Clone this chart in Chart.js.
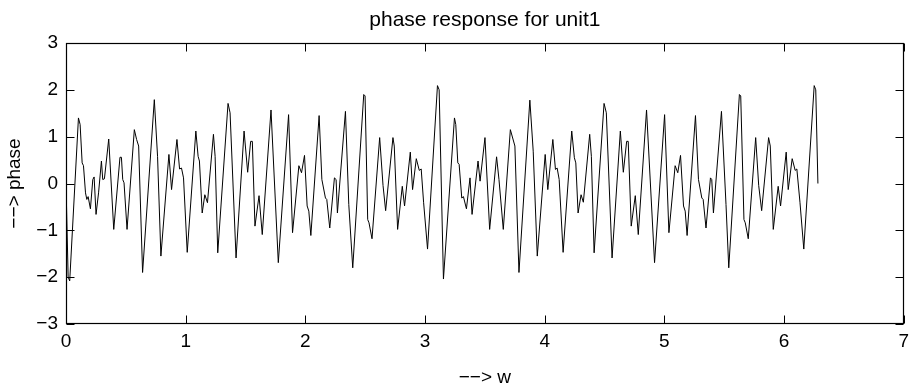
<!DOCTYPE html>
<html>
<head>
<meta charset="utf-8">
<title>phase response for unit1</title>
<script src="https://cdn.jsdelivr.net/npm/chart.js@4.4.1/dist/chart.umd.min.js"></script>
<style>
  html, body { margin: 0; padding: 0; background: #fff; }
  #wrap { width: 915px; height: 387px; }
</style>
</head>
<body>
<div id="wrap"><canvas id="myChart" width="915" height="387"></canvas></div>
<script>
// values (w in rad, phase)
const wValues = [
  0, 0.018, 0.031, 0.104, 0.118, 0.135, 0.146, 0.163, 0.174, 0.185, 0.204, 0.224, 0.235, 0.251, 0.272,
  0.296, 0.307, 0.321, 0.357, 0.399, 0.451, 0.463, 0.474, 0.485, 0.51, 0.571, 0.59, 0.607, 0.64,
  0.738, 0.765, 0.793, 0.86, 0.882, 0.927, 0.949, 0.965, 0.982, 1.013, 1.085, 1.104, 1.115, 1.138,
  1.16, 1.182, 1.232, 1.246, 1.268, 1.354, 1.371, 1.421, 1.488, 1.518, 1.543, 1.557, 1.579, 1.613,
  1.64, 1.713, 1.774, 1.86, 1.893, 1.946, 1.968, 1.993, 2.015, 2.029, 2.046, 2.115, 2.138, 2.168,
  2.179, 2.204, 2.243, 2.257, 2.268, 2.335, 2.363, 2.396, 2.488, 2.499, 2.521, 2.532, 2.557, 2.621,
  2.649, 2.671, 2.732, 2.743, 2.771, 2.81, 2.829, 2.877, 2.896, 2.927, 2.952, 2.968, 2.988, 3.021,
  3.104, 3.118, 3.154, 3.246, 3.257, 3.274, 3.285, 3.307, 3.321, 3.346, 3.376, 3.393, 3.443, 3.46,
  3.501, 3.54, 3.598, 3.618, 3.654, 3.713, 3.751, 3.785, 3.876, 3.904, 3.938, 4.004, 4.026, 4.068,
  4.09, 4.104, 4.121, 4.154, 4.226, 4.248, 4.26, 4.279, 4.304, 4.323, 4.376, 4.39, 4.413, 4.496,
  4.515, 4.563, 4.632, 4.657, 4.685, 4.698, 4.723, 4.757, 4.782, 4.851, 4.918, 5.002, 5.038, 5.09,
  5.112, 5.135, 5.16, 5.174, 5.19, 5.26, 5.285, 5.313, 5.324, 5.348, 5.385, 5.396, 5.41, 5.477,
  5.515, 5.538, 5.627, 5.638, 5.665, 5.676, 5.701, 5.763, 5.788, 5.813, 5.871, 5.885, 5.91, 5.951,
  5.971, 6.018, 6.035, 6.068, 6.093, 6.107, 6.133, 6.165, 6.252, 6.265, 6.283
];
const phaseValues = [
  0, -2.0, -2.08, 1.40, 1.26, 0.44, 0.38, -0.2, -0.34, -0.28, -0.54, 0.085, 0.14, -0.66, -0.2,
  0.48, 0.085, 0.1, 0.95, -0.98, 0.56, 0.56, 0.085, 0.015, -0.98, 1.15, 0.94, 0.80, -1.9,
  1.79, 0.58, -1.55, 0.62, -0.13, 0.94, 0.31, 0.33, 0.12, -1.47, 1.12, 0.58, 0.48, -0.63,
  -0.24, -0.41, 1.05, 0.58, -1.48, 1.71, 1.51, -1.59, 1.12, 0.24, 0.9, 0.9, -0.91, -0.26,
  -1.09, 1.57, -1.69, 1.47, -1.05, 0.38, 0.23, 0.6, -0.48, -0.59, -1.11, 1.45, 0.085, -0.31,
  -0.34, -0.95, 0.12, 0.085, -0.63, 1.54, -0.45, -1.80, 1.90, 1.87, -0.77, -0.84, -1.18, 0.98,
  -0.04, -0.58, 0.98, 0.80, -0.98, -0.06, -0.48, 0.67, -0.13, 0.53, 0.28, 0.31, -0.40, -1.40,
  2.09, 2.0, -2.04, 1.40, 1.26, 0.44, 0.41, -0.31, -0.28, -0.54, 0.12, -0.66, 0.48, 0.05,
  0.98, -0.98, 0.57, 0.085, -0.98, 1.15, 0.80, -1.9, 1.78, 0.69, -1.55, 0.62, -0.13, 0.94,
  0.30, 0.33, 0.085, -1.47, 1.12, 0.55, 0.44, -0.63, -0.24, -0.40, 1.05, 0.58, -1.48, 1.71,
  1.51, -1.59, 1.12, 0.24, 0.9, 0.9, -0.91, -0.26, -1.09, 1.57, -1.69, 1.47, -1.05, 0.38,
  0.23, 0.6, -0.48, -0.59, -1.11, 1.45, 0.085, -0.31, -0.34, -0.95, 0.12, 0.085, -0.63, 1.54,
  -0.45, -1.80, 1.90, 1.87, -0.77, -0.84, -1.18, 0.98, -0.04, -0.58, 0.98, 0.80, -0.98, -0.06,
  -0.48, 0.67, -0.13, 0.53, 0.28, 0.31, -0.40, -1.40, 2.09, 2.0, 0.0
];
const xTicks = [0, 1, 2, 3, 4, 5, 6, 7];
const yTicks = [-3, -2, -1, 0, 1, 2, 3];

const fontFamily = "'Liberation Sans', Arial, Helvetica, sans-serif";

const points = wValues.map((w, i) => ({ x: w, y: phaseValues[i] }));

// matlab style box with inward ticks
const boxPlugin = {
  id: 'box',
  afterDatasetsDraw(chart) {
    const { ctx, chartArea: a, scales } = chart;
    const len = 8;
    const l = Math.round(a.left) + 0.5, r = Math.round(a.right) - 0.5;
    const t = Math.round(a.top) + 0.5, b = Math.round(a.bottom) - 0.5;
    ctx.save();
    ctx.strokeStyle = '#000';
    ctx.lineWidth = 1;
    ctx.beginPath();
    xTicks.forEach(v => {
      const px = Math.round(scales.x.getPixelForValue(v)) + 0.5;
      ctx.moveTo(px, b); ctx.lineTo(px, b - len);
      ctx.moveTo(px, t); ctx.lineTo(px, t + len);
    });
    yTicks.forEach(v => {
      const py = Math.round(scales.y.getPixelForValue(v)) + 0.5;
      ctx.moveTo(l, py); ctx.lineTo(l + len, py);
      ctx.moveTo(r, py); ctx.lineTo(r - len, py);
    });
    ctx.stroke();
    ctx.lineWidth = 1.2;
    ctx.strokeRect(l, t, r - l, b - t);
    ctx.restore();
  }
};

const chartCanvas = document.getElementById('myChart');
const myChart = new Chart(chartCanvas, {
  type: 'line',
  data: {
    datasets: [{
      data: points,
      borderColor: '#000',
      borderWidth: 1,
      pointRadius: 0,
      tension: 0,
      fill: false
    }]
  },
  options: {
    responsive: false,
    animation: false,
    layout: { padding: { left: 0, right: 9, top: 0, bottom: 0 } },
    plugins: {
      legend: { display: false },
      tooltip: { enabled: false },
      title: {
        display: true,
        text: 'phase response for unit1',
        fullSize: false,
        color: '#000',
        font: { family: fontFamily, size: 21, weight: 'normal', lineHeight: 1 },
        padding: { top: 10, bottom: 12 }
      }
    },
    scales: {
      x: {
        type: 'linear',
        min: 0,
        max: 7,
        afterFit: scale => { scale.height = 63; },
        afterBuildTicks: scale => { scale.ticks = xTicks.map(v => ({ value: v })); },
        grid: { display: false, drawTicks: false },
        border: { display: false },
        ticks: {
          color: '#000',
          padding: 6,
          maxRotation: 0,
          font: { family: fontFamily, size: 19 }
        },
        title: {
          display: true,
          text: '−−> w',
          color: '#000',
          font: { family: fontFamily, size: 19, lineHeight: 1 },
          padding: { top: 0, bottom: 0 }
        }
      },
      y: {
        min: -3,
        max: 3,
        afterFit: scale => { scale.width = 66; },
        afterBuildTicks: scale => { scale.ticks = yTicks.map(v => ({ value: v })); },
        grid: { display: false, drawTicks: false },
        border: { display: false },
        ticks: {
          color: '#000',
          padding: 8,
          callback: v => (v < 0 ? '−' + Math.abs(v) : String(v)),
          font: { family: fontFamily, size: 19 }
        },
        title: {
          display: true,
          text: '−−> phase',
          color: '#000',
          font: { family: fontFamily, size: 19, lineHeight: 1 },
          padding: { top: 5, bottom: 0 }
        }
      }
    }
  },
  plugins: [boxPlugin]
});
</script>
</body>
</html>
